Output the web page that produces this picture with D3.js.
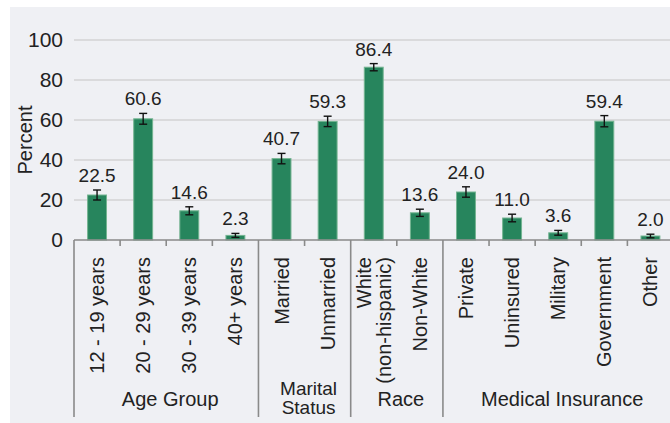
<!DOCTYPE html>
<html><head><meta charset="utf-8">
<script src="https://cdn.jsdelivr.net/npm/d3@7"></script>
<style>
html,body{margin:0;padding:0;background:#fff;}
svg{display:block;font-family:"Liberation Sans",Arial,sans-serif;}
</style></head>
<body>
<svg id="chart" width="670" height="423"></svg>
<script>
const categories = ["12 - 19 years","20 - 29 years","30 - 39 years","40+ years","Married","Unmarried","White\n(non-hispanic)","Non-White","Private","Uninsured","Military","Government","Other"];
const values = [22.5,60.6,14.6,2.3,40.7,59.3,86.4,13.6,24.0,11.0,3.6,59.4,2.0];
const errors = [2.5,2.7,2.0,1.0,2.6,2.6,1.8,1.8,2.6,1.9,1.2,2.8,0.9];
const groupNames = ["Age Group","Marital\nStatus","Race","Medical Insurance"];
const groupSizes = [4,2,2,5];
const yTicks = [0,20,40,60,80,100];
const yLabel = "Percent";

(function(){
const svg = d3.select("#chart");
const W = 670, H = 423;
const pLeft = 74, pRight = 673.5, pTop = 40, pBottom = 240;

svg.append("rect").attr("x",10).attr("y",7).attr("width",W-10).attr("height",H-7).attr("fill","#eff0f4");

const x = d3.scaleBand().domain(categories).range([pLeft,pRight]).padding(0);
const y = d3.scaleLinear().domain([0,100]).range([pBottom,pTop]);
const barW = x.bandwidth()*0.41;

// gridlines
svg.append("g").selectAll("line").data(yTicks.filter(d=>d>0)).join("line")
  .attr("x1",pLeft).attr("x2",W).attr("y1",d=>y(d)).attr("y2",d=>y(d))
  .attr("stroke","#d3d3d5").attr("stroke-width",1.6);

// y axis labels
const yAxis = d3.axisLeft(y).tickValues(yTicks).tickSize(0).tickPadding(0).tickFormat(d3.format("d"));
const ya = svg.append("g").attr("transform",`translate(63,0)`).call(yAxis);
ya.select(".domain").remove();
ya.selectAll("text").attr("font-size",21).attr("fill","#222").attr("font-family","Liberation Sans, Arial, sans-serif");

svg.append("text").attr("transform",`translate(32,140) rotate(-90)`).attr("text-anchor","middle")
  .attr("font-size",20).attr("fill","#222").text(yLabel);

// bars
svg.append("g").selectAll("rect").data(values).join("rect")
  .attr("x",(d,i)=>x(categories[i])+x.bandwidth()/2-barW/2)
  .attr("y",d=>y(d)).attr("width",barW).attr("height",d=>pBottom-y(d))
  .attr("fill","#27855d").attr("stroke","#74b491").attr("stroke-width",1);

// error bars
const eg = svg.append("g").attr("stroke","#111").attr("stroke-width",1.4);
values.forEach((v,i)=>{
  const cx = x(categories[i])+x.bandwidth()/2;
  const y1 = y(v+errors[i]), y2 = y(v-errors[i]);
  eg.append("line").attr("x1",cx).attr("x2",cx).attr("y1",y1).attr("y2",y2);
  eg.append("line").attr("x1",cx-4).attr("x2",cx+4).attr("y1",y1).attr("y2",y1);
  eg.append("line").attr("x1",cx-4).attr("x2",cx+4).attr("y1",y2).attr("y2",y2);
});

// value labels
svg.append("g").selectAll("text").data(values).join("text")
  .attr("x",(d,i)=>x(categories[i])+x.bandwidth()/2)
  .attr("y",(d,i)=>y(d+errors[i])-8)
  .attr("text-anchor","middle").attr("font-size",19).attr("fill","#222")
  .text(d=>d.toFixed(1));

// x axis line
svg.append("line").attr("x1",pLeft).attr("x2",W).attr("y1",pBottom).attr("y2",pBottom)
  .attr("stroke","#8a8a8a").attr("stroke-width",1.6);

// group separators and inner ticks
let idx = 0;
const bounds = [0];
groupSizes.forEach(s=>{ idx+=s; bounds.push(idx); });
const sepG = svg.append("g").attr("stroke","#8a8a8a").attr("stroke-width",1.6);
categories.forEach((c,i)=>{
  const xx = x(c);
  sepG.append("line").attr("x1",xx).attr("x2",xx).attr("y1",pBottom)
    .attr("y2", bounds.includes(i) ? 417 : 246);
});
sepG.append("line").attr("x1",pRight).attr("x2",pRight).attr("y1",pBottom).attr("y2",417);

// category labels
categories.forEach((c,i)=>{
  const lines = c.split("\n");
  const cx = x(c)+x.bandwidth()/2;
  lines.forEach((t,j)=>{
    const off = (j-(lines.length-1)/2)*20;
    svg.append("text").attr("transform",`translate(${cx+off+7},257) rotate(-90)`)
      .attr("text-anchor","end").attr("font-size",20).attr("fill","#222").text(t);
  });
});

// group labels
groupNames.forEach((g,k)=>{
  const x0 = x(categories[bounds[k]]);
  const x1 = bounds[k+1] < categories.length ? x(categories[bounds[k+1]]) : pRight;
  const cx = (x0+x1)/2 + 4;
  const lines = g.split("\n");
  const fs = lines.length>1 ? 19 : 20;
  lines.forEach((t,j)=>{
    svg.append("text").attr("x",cx).attr("y",lines.length>1 ? 395 + j*19 : 406)
      .attr("text-anchor","middle").attr("font-size",fs).attr("fill","#222").text(t);
  });
});
})();
</script>
</body></html>
